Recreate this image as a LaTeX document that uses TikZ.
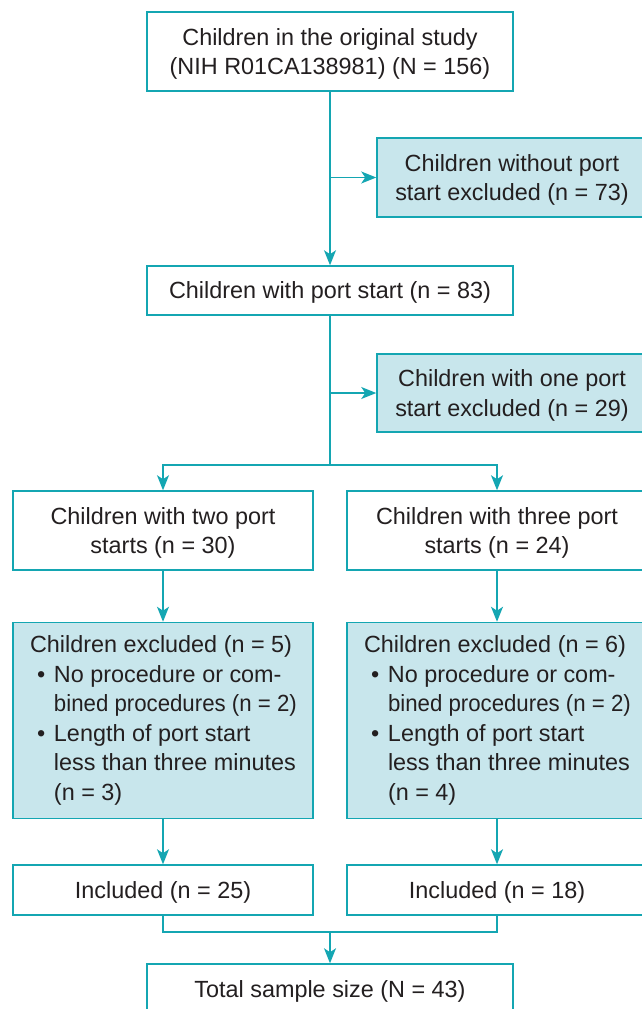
\documentclass[tikz,border=0pt]{standalone}
\usepackage{fontspec}
\setmainfont{Liberation Sans}
\usetikzlibrary{arrows.meta}
\definecolor{flowteal}{RGB}{20,166,178}
\definecolor{flowfill}{RGB}{200,230,236}
\definecolor{flowink}{RGB}{35,31,32}
\newcommand{\itm}{\makebox[24pt][l]{\hspace{7pt}\textbullet}}
\newcommand{\cnt}{\hspace*{24pt}}
\newcommand{\narrowline}[1]{\makebox[242pt][l]{\addfontfeatures{FakeStretch=0.95}#1}}

\begin{document}
\begin{tikzpicture}[x=1pt, y=-1pt,
    box/.style={draw=flowteal, line width=1.5pt, fill=white, text=flowink, align=center, inner sep=0pt, text depth=0pt, font=\fontsize{23.4}{29.5}\selectfont},
    excl/.style={box, fill=flowfill},
    list/.style={excl, align=left, text depth=, minimum width=300pt, minimum height=196pt},
    flow/.style={draw=flowteal, line width=1.5pt, -{Stealth[length=15pt,width=12pt,inset=4pt]}},
    link/.style={draw=flowteal, line width=1.5pt}]

\useasboundingbox (0,0) rectangle (641,1009);

\node[box, minimum width=366pt, minimum height=79pt] (orig) at (330,51.5) {Children in the original study\\(NIH R01CA138981) (N = 156)};
\node[excl, minimum width=270pt, minimum height=79pt] (nostart) at (512,177.5) {Children without port\\start excluded (n = 73)};
\node[box, minimum width=366pt, minimum height=49pt] (port) at (330,290.5) {Children with port start (n = 83)};
\node[excl, minimum width=270pt, minimum height=78pt] (oneport) at (512,393) {Children with one port\\start excluded (n = 29)};
\node[box, minimum width=300pt, minimum height=79pt] (two) at (163,530.5) {Children with two port\\starts (n = 30)};
\node[box, minimum width=300pt, minimum height=79pt] (three) at (497,530.5) {Children with three port\\starts (n = 24)};
\node[list] (extwo) at (163,720.5) {Children excluded (n = 5)\\\itm No procedure or com-\\\cnt\narrowline{bined procedures (n = 2)}\\\itm Length of port start\\\cnt less than three minutes\\\cnt (n = 3)};
\node[list] (exthree) at (497,720.5) {Children excluded (n = 6)\\\itm No procedure or com-\\\cnt\narrowline{bined procedures (n = 2)}\\\itm Length of port start\\\cnt less than three minutes\\\cnt (n = 4)};
\node[box, minimum width=300pt, minimum height=50pt] (inctwo) at (163,890) {Included (n = 25)};
\node[box, minimum width=300pt, minimum height=50pt] (incthree) at (497,890) {Included (n = 18)};
\node[box, minimum width=366pt, minimum height=50pt] (total) at (330,989) {Total sample size (N = 43)};

\coordinate (j1) at (orig.south |- nostart.west);
\coordinate (j2) at (port.south |- oneport.west);
\coordinate (split) at (330,465);
\coordinate (merge) at (330,932);

\draw[flow] (orig) -- (port);
\draw[flow] (j1) -- (nostart);
\draw[link] (port) -- (split);
\draw[flow] (j2) -- (oneport);
\draw[flow] (split) -| (two);
\draw[flow] (split) -| (three);
\draw[flow] (two) -- (extwo);
\draw[flow] (three) -- (exthree);
\draw[flow] (extwo) -- (inctwo);
\draw[flow] (exthree) -- (incthree);
\draw[link] (inctwo) |- (merge);
\draw[link] (incthree) |- (merge);
\draw[flow] (merge) -- (total);

\end{tikzpicture}
\end{document}
